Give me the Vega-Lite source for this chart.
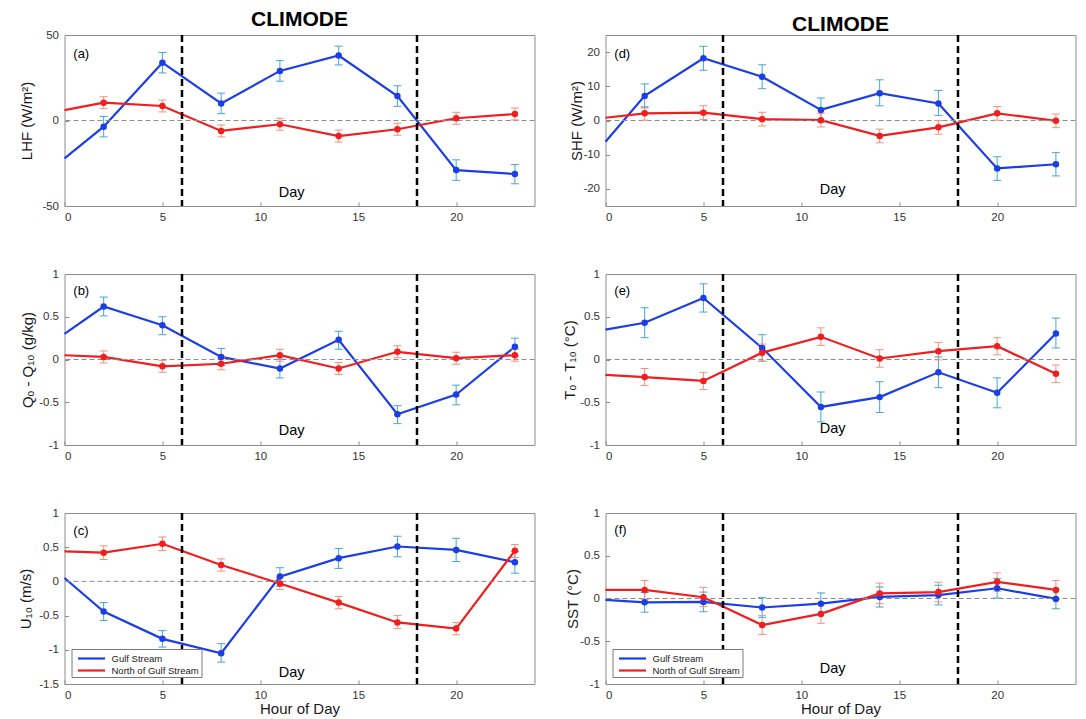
{
  "$schema": "https://vega.github.io/schema/vega-lite/v6.json",
  "background": "white",
  "padding": {"left": 17.5, "top": 8, "right": 5, "bottom": 5},
  "datasets": {
    "climode": [
      {"p":"a","hour":0,"region":"Gulf Stream","v":-22.1,"lo":null,"hi":null},
      {"p":"a","hour":2,"region":"Gulf Stream","v":-3.6,"lo":-9.6,"hi":2.4},
      {"p":"a","hour":5,"region":"Gulf Stream","v":33.8,"lo":27.8,"hi":39.8},
      {"p":"a","hour":8,"region":"Gulf Stream","v":10,"lo":4,"hi":16},
      {"p":"a","hour":11,"region":"Gulf Stream","v":29,"lo":23,"hi":35},
      {"p":"a","hour":14,"region":"Gulf Stream","v":38,"lo":32.5,"hi":43.5},
      {"p":"a","hour":17,"region":"Gulf Stream","v":14.3,"lo":8.3,"hi":20.3},
      {"p":"a","hour":20,"region":"Gulf Stream","v":-29,"lo":-35,"hi":-23},
      {"p":"a","hour":23,"region":"Gulf Stream","v":-31.3,"lo":-37,"hi":-25.8},
      {"p":"a","hour":0,"region":"North of Gulf Stream","v":6.1,"lo":null,"hi":null},
      {"p":"a","hour":2,"region":"North of Gulf Stream","v":10.4,"lo":6.9,"hi":13.9},
      {"p":"a","hour":5,"region":"North of Gulf Stream","v":8.5,"lo":5,"hi":12},
      {"p":"a","hour":8,"region":"North of Gulf Stream","v":-6.1,"lo":-9.6,"hi":-2.6},
      {"p":"a","hour":11,"region":"North of Gulf Stream","v":-2.2,"lo":-5.7,"hi":1.3},
      {"p":"a","hour":14,"region":"North of Gulf Stream","v":-9.1,"lo":-12.6,"hi":-5.6},
      {"p":"a","hour":17,"region":"North of Gulf Stream","v":-5.1,"lo":-8.6,"hi":-1.6},
      {"p":"a","hour":20,"region":"North of Gulf Stream","v":1.3,"lo":-2.2,"hi":4.8},
      {"p":"a","hour":23,"region":"North of Gulf Stream","v":3.8,"lo":0.3,"hi":7.3},

      {"p":"d","hour":0,"region":"Gulf Stream","v":-6.2,"lo":null,"hi":null},
      {"p":"d","hour":2,"region":"Gulf Stream","v":7.2,"lo":3.7,"hi":10.7},
      {"p":"d","hour":5,"region":"Gulf Stream","v":18.2,"lo":14.7,"hi":21.7},
      {"p":"d","hour":8,"region":"Gulf Stream","v":12.8,"lo":9.3,"hi":16.3},
      {"p":"d","hour":11,"region":"Gulf Stream","v":3.1,"lo":-0.4,"hi":6.6},
      {"p":"d","hour":14,"region":"Gulf Stream","v":8,"lo":4.3,"hi":11.9},
      {"p":"d","hour":17,"region":"Gulf Stream","v":5,"lo":1.5,"hi":8.8},
      {"p":"d","hour":20,"region":"Gulf Stream","v":-14,"lo":-17.5,"hi":-10.6},
      {"p":"d","hour":23,"region":"Gulf Stream","v":-12.8,"lo":-16.2,"hi":-9.4},
      {"p":"d","hour":0,"region":"North of Gulf Stream","v":0.8,"lo":null,"hi":null},
      {"p":"d","hour":2,"region":"North of Gulf Stream","v":2.1,"lo":0.1,"hi":4.1},
      {"p":"d","hour":5,"region":"North of Gulf Stream","v":2.3,"lo":0.3,"hi":4.3},
      {"p":"d","hour":8,"region":"North of Gulf Stream","v":0.4,"lo":-1.6,"hi":2.4},
      {"p":"d","hour":11,"region":"North of Gulf Stream","v":0.1,"lo":-1.9,"hi":2.1},
      {"p":"d","hour":14,"region":"North of Gulf Stream","v":-4.5,"lo":-6.5,"hi":-2.5},
      {"p":"d","hour":17,"region":"North of Gulf Stream","v":-2,"lo":-4,"hi":0},
      {"p":"d","hour":20,"region":"North of Gulf Stream","v":2.1,"lo":0.1,"hi":4.1},
      {"p":"d","hour":23,"region":"North of Gulf Stream","v":-0.1,"lo":-2.1,"hi":1.9},

      {"p":"b","hour":0,"region":"Gulf Stream","v":0.30,"lo":null,"hi":null},
      {"p":"b","hour":2,"region":"Gulf Stream","v":0.62,"lo":0.51,"hi":0.73},
      {"p":"b","hour":5,"region":"Gulf Stream","v":0.40,"lo":0.29,"hi":0.50},
      {"p":"b","hour":8,"region":"Gulf Stream","v":0.03,"lo":-0.07,"hi":0.13},
      {"p":"b","hour":11,"region":"Gulf Stream","v":-0.105,"lo":-0.215,"hi":0.005},
      {"p":"b","hour":14,"region":"Gulf Stream","v":0.23,"lo":0.12,"hi":0.33},
      {"p":"b","hour":17,"region":"Gulf Stream","v":-0.64,"lo":-0.75,"hi":-0.54},
      {"p":"b","hour":20,"region":"Gulf Stream","v":-0.41,"lo":-0.53,"hi":-0.30},
      {"p":"b","hour":23,"region":"Gulf Stream","v":0.15,"lo":0.04,"hi":0.25},
      {"p":"b","hour":0,"region":"North of Gulf Stream","v":0.05,"lo":null,"hi":null},
      {"p":"b","hour":2,"region":"North of Gulf Stream","v":0.03,"lo":-0.04,"hi":0.10},
      {"p":"b","hour":5,"region":"North of Gulf Stream","v":-0.08,"lo":-0.15,"hi":-0.01},
      {"p":"b","hour":8,"region":"North of Gulf Stream","v":-0.05,"lo":-0.12,"hi":0.02},
      {"p":"b","hour":11,"region":"North of Gulf Stream","v":0.05,"lo":-0.02,"hi":0.12},
      {"p":"b","hour":14,"region":"North of Gulf Stream","v":-0.105,"lo":-0.175,"hi":-0.035},
      {"p":"b","hour":17,"region":"North of Gulf Stream","v":0.09,"lo":0.02,"hi":0.16},
      {"p":"b","hour":20,"region":"North of Gulf Stream","v":0.015,"lo":-0.055,"hi":0.085},
      {"p":"b","hour":23,"region":"North of Gulf Stream","v":0.05,"lo":-0.02,"hi":0.12},

      {"p":"e","hour":0,"region":"Gulf Stream","v":0.35,"lo":null,"hi":null},
      {"p":"e","hour":2,"region":"Gulf Stream","v":0.43,"lo":0.255,"hi":0.605},
      {"p":"e","hour":5,"region":"Gulf Stream","v":0.72,"lo":0.555,"hi":0.885},
      {"p":"e","hour":8,"region":"Gulf Stream","v":0.135,"lo":-0.02,"hi":0.29},
      {"p":"e","hour":11,"region":"Gulf Stream","v":-0.555,"lo":-0.73,"hi":-0.38},
      {"p":"e","hour":14,"region":"Gulf Stream","v":-0.44,"lo":-0.62,"hi":-0.26},
      {"p":"e","hour":17,"region":"Gulf Stream","v":-0.15,"lo":-0.33,"hi":0.03},
      {"p":"e","hour":20,"region":"Gulf Stream","v":-0.39,"lo":-0.565,"hi":-0.215},
      {"p":"e","hour":23,"region":"Gulf Stream","v":0.305,"lo":0.135,"hi":0.485},
      {"p":"e","hour":0,"region":"North of Gulf Stream","v":-0.18,"lo":null,"hi":null},
      {"p":"e","hour":2,"region":"North of Gulf Stream","v":-0.205,"lo":-0.305,"hi":-0.105},
      {"p":"e","hour":5,"region":"North of Gulf Stream","v":-0.25,"lo":-0.35,"hi":-0.15},
      {"p":"e","hour":8,"region":"North of Gulf Stream","v":0.08,"lo":-0.02,"hi":0.18},
      {"p":"e","hour":11,"region":"North of Gulf Stream","v":0.265,"lo":0.165,"hi":0.37},
      {"p":"e","hour":14,"region":"North of Gulf Stream","v":0.012,"lo":-0.09,"hi":0.115},
      {"p":"e","hour":17,"region":"North of Gulf Stream","v":0.097,"lo":-0.005,"hi":0.2},
      {"p":"e","hour":20,"region":"North of Gulf Stream","v":0.156,"lo":0.055,"hi":0.255},
      {"p":"e","hour":23,"region":"North of Gulf Stream","v":-0.167,"lo":-0.27,"hi":-0.065},

      {"p":"c","hour":0,"region":"Gulf Stream","v":0.05,"lo":null,"hi":null},
      {"p":"c","hour":2,"region":"Gulf Stream","v":-0.44,"lo":-0.57,"hi":-0.31},
      {"p":"c","hour":5,"region":"Gulf Stream","v":-0.84,"lo":-0.96,"hi":-0.72},
      {"p":"c","hour":8,"region":"Gulf Stream","v":-1.05,"lo":-1.18,"hi":-0.91},
      {"p":"c","hour":11,"region":"Gulf Stream","v":0.07,"lo":-0.07,"hi":0.2},
      {"p":"c","hour":14,"region":"Gulf Stream","v":0.34,"lo":0.19,"hi":0.48},
      {"p":"c","hour":17,"region":"Gulf Stream","v":0.51,"lo":0.36,"hi":0.66},
      {"p":"c","hour":20,"region":"Gulf Stream","v":0.46,"lo":0.29,"hi":0.63},
      {"p":"c","hour":23,"region":"Gulf Stream","v":0.28,"lo":0.12,"hi":0.44},
      {"p":"c","hour":0,"region":"North of Gulf Stream","v":0.44,"lo":null,"hi":null},
      {"p":"c","hour":2,"region":"North of Gulf Stream","v":0.42,"lo":0.32,"hi":0.52},
      {"p":"c","hour":5,"region":"North of Gulf Stream","v":0.55,"lo":0.45,"hi":0.65},
      {"p":"c","hour":8,"region":"North of Gulf Stream","v":0.24,"lo":0.15,"hi":0.33},
      {"p":"c","hour":11,"region":"North of Gulf Stream","v":-0.03,"lo":-0.12,"hi":0.06},
      {"p":"c","hour":14,"region":"North of Gulf Stream","v":-0.31,"lo":-0.40,"hi":-0.22},
      {"p":"c","hour":17,"region":"North of Gulf Stream","v":-0.60,"lo":-0.69,"hi":-0.50},
      {"p":"c","hour":20,"region":"North of Gulf Stream","v":-0.69,"lo":-0.78,"hi":-0.60},
      {"p":"c","hour":23,"region":"North of Gulf Stream","v":0.45,"lo":0.35,"hi":0.54},

      {"p":"f","hour":0,"region":"Gulf Stream","v":-0.015,"lo":null,"hi":null},
      {"p":"f","hour":2,"region":"Gulf Stream","v":-0.045,"lo":-0.16,"hi":0.07},
      {"p":"f","hour":5,"region":"Gulf Stream","v":-0.04,"lo":-0.155,"hi":0.075},
      {"p":"f","hour":8,"region":"Gulf Stream","v":-0.105,"lo":-0.22,"hi":0.01},
      {"p":"f","hour":11,"region":"Gulf Stream","v":-0.06,"lo":-0.175,"hi":0.065},
      {"p":"f","hour":14,"region":"Gulf Stream","v":0.018,"lo":-0.1,"hi":0.135},
      {"p":"f","hour":17,"region":"Gulf Stream","v":0.04,"lo":-0.075,"hi":0.155},
      {"p":"f","hour":20,"region":"Gulf Stream","v":0.12,"lo":0.005,"hi":0.235},
      {"p":"f","hour":23,"region":"Gulf Stream","v":-0.005,"lo":-0.12,"hi":0.11},
      {"p":"f","hour":0,"region":"North of Gulf Stream","v":0.1,"lo":null,"hi":null},
      {"p":"f","hour":2,"region":"North of Gulf Stream","v":0.1,"lo":-0.01,"hi":0.21},
      {"p":"f","hour":5,"region":"North of Gulf Stream","v":0.015,"lo":-0.095,"hi":0.13},
      {"p":"f","hour":8,"region":"North of Gulf Stream","v":-0.31,"lo":-0.42,"hi":-0.2},
      {"p":"f","hour":11,"region":"North of Gulf Stream","v":-0.18,"lo":-0.29,"hi":-0.07},
      {"p":"f","hour":14,"region":"North of Gulf Stream","v":0.06,"lo":-0.06,"hi":0.18},
      {"p":"f","hour":17,"region":"North of Gulf Stream","v":0.075,"lo":-0.04,"hi":0.19},
      {"p":"f","hour":20,"region":"North of Gulf Stream","v":0.195,"lo":0.085,"hi":0.3},
      {"p":"f","hour":23,"region":"North of Gulf Stream","v":0.1,"lo":-0.01,"hi":0.21}
    ]
  },
  "data": {"name": "climode"},
  "columns": 2,
  "spacing": {"row": 68, "column": 71},
  "bounds": "flush",
  "resolve": {
    "scale": {"x": "independent", "y": "independent", "color": "independent", "fill": "independent", "stroke": "independent"},
    "legend": {"color": "independent"}
  },
  "config": {
    "font": "Liberation Sans",
    "view": {"stroke": "#8c8c8c", "strokeWidth": 1},
    "title": {"font": "Liberation Sans", "fontSize": 21, "fontWeight": "bold", "color": "#000", "anchor": "middle", "offset": -1, "frame": "group"},
    "axis": {"grid": false, "domain": false, "ticks": true, "tickColor": "#8c8c8c", "tickSize": -4, "tickCount": 10, "labelFont": "Liberation Sans", "labelFontSize": 11.5, "labelColor": "#333", "labelOverlap": false, "titleFont": "Liberation Sans", "titleFontSize": 15, "titleFontWeight": "normal", "titleColor": "#1a1a1a"},
    "axisX": {"labelPadding": 9},
    "axisY": {"labelPadding": 10, "labelExpr": "'' + datum.value"}
  },
  "concat": [
    {
      "width": 470, "height": 171,
      "title": {"text": "CLIMODE"},
      "transform": [{"filter": "datum.p === 'a'"}],
      "layer": [
        {"mark": {"type": "line", "strokeWidth": 2.2}, "encoding": {
          "x": {"field": "hour", "type": "quantitative", "scale": {"domain": [0, 24], "nice": false}, "axis": {"values": [0, 5, 10, 15, 20], "tickCount": 10, "title": null}},
          "y": {"field": "v", "type": "quantitative", "scale": {"domain": [-50, 50], "nice": false}, "axis": {"values": [-50, 0, 50], "tickCount": 10, "labelOverlap": false, "title": "LHF (W/m²)", "titleX": -38, "titleBaseline": "middle"}},
          "color": {"field": "region", "type": "nominal", "scale": {"domain": ["Gulf Stream", "North of Gulf Stream"], "range": ["#1b3ee6", "#f01e1e"]}, "legend": null}}},
        {"data": {"values": [{}]}, "mark": {"type": "rule", "color": "#8c8c8c", "strokeWidth": 1, "strokeDash": [5, 3]}, "encoding": {"y": {"datum": 0, "type": "quantitative", "scale": {"domain": [-50, 50], "nice": false}}}},
        {"data": {"values": [{"h": 6}, {"h": 18}]}, "mark": {"type": "rule", "color": "#000", "strokeWidth": 2.5, "strokeDash": [7, 4]}, "encoding": {"x": {"field": "h", "type": "quantitative", "scale": {"domain": [0, 24], "nice": false}}}},
        {"transform": [{"filter": "datum.hour > 0"}], "mark": {"type": "rule", "strokeWidth": 1}, "encoding": {
          "x": {"field": "hour", "type": "quantitative", "scale": {"domain": [0, 24], "nice": false}},
          "y": {"field": "lo", "type": "quantitative", "scale": {"domain": [-50, 50], "nice": false}},
          "y2": {"field": "hi"},
          "stroke": {"field": "region", "type": "nominal", "scale": {"domain": ["Gulf Stream", "North of Gulf Stream"], "range": ["#44a6cf", "#f2937a"]}, "legend": null}}},
        {"transform": [{"filter": "datum.hour > 0"}], "mark": {"type": "point", "shape": "M-1,0H1", "filled": false, "size": 64, "strokeWidth": 1, "opacity": 1}, "encoding": {
          "x": {"field": "hour", "type": "quantitative", "scale": {"domain": [0, 24], "nice": false}},
          "y": {"field": "lo", "type": "quantitative", "scale": {"domain": [-50, 50], "nice": false}},
          "stroke": {"field": "region", "type": "nominal", "scale": {"domain": ["Gulf Stream", "North of Gulf Stream"], "range": ["#44a6cf", "#f2937a"]}, "legend": null}}},
        {"transform": [{"filter": "datum.hour > 0"}], "mark": {"type": "point", "shape": "M-1,0H1", "filled": false, "size": 64, "strokeWidth": 1, "opacity": 1}, "encoding": {
          "x": {"field": "hour", "type": "quantitative", "scale": {"domain": [0, 24], "nice": false}},
          "y": {"field": "hi", "type": "quantitative", "scale": {"domain": [-50, 50], "nice": false}},
          "stroke": {"field": "region", "type": "nominal", "scale": {"domain": ["Gulf Stream", "North of Gulf Stream"], "range": ["#44a6cf", "#f2937a"]}, "legend": null}}},
        {"transform": [{"filter": "datum.hour > 0"}], "mark": {"type": "circle", "size": 42, "opacity": 1}, "encoding": {
          "x": {"field": "hour", "type": "quantitative", "scale": {"domain": [0, 24], "nice": false}},
          "y": {"field": "v", "type": "quantitative", "scale": {"domain": [-50, 50], "nice": false}},
          "fill": {"field": "region", "type": "nominal", "scale": {"domain": ["Gulf Stream", "North of Gulf Stream"], "range": ["#1b3ee6", "#f01e1e"]}, "legend": null}}},
        {"data": {"values": [{}]}, "mark": {"type": "text", "text": "(a)", "align": "left", "baseline": "middle", "fontSize": 13, "color": "#000"}, "encoding": {
          "x": {"datum": 0.45, "type": "quantitative", "scale": {"domain": [0, 24], "nice": false}},
          "y": {"datum": 39, "type": "quantitative", "scale": {"domain": [-50, 50], "nice": false}}}},
        {"data": {"values": [{}]}, "mark": {"type": "text", "text": "Day", "align": "center", "baseline": "middle", "fontSize": 14.5, "color": "#000"}, "encoding": {
          "x": {"datum": 11.6, "type": "quantitative", "scale": {"domain": [0, 24], "nice": false}},
          "y": {"datum": -42.4, "type": "quantitative", "scale": {"domain": [-50, 50], "nice": false}}}}
      ]
    },
    {
      "width": 470, "height": 171,
      "title": {"text": "CLIMODE"},
      "transform": [{"filter": "datum.p === 'd'"}],
      "layer": [
        {"mark": {"type": "line", "strokeWidth": 2.2}, "encoding": {
          "x": {"field": "hour", "type": "quantitative", "scale": {"domain": [0, 24], "nice": false}, "axis": {"values": [0, 5, 10, 15, 20], "tickCount": 10, "title": null}},
          "y": {"field": "v", "type": "quantitative", "scale": {"domain": [-25, 25], "nice": false}, "axis": {"values": [-20, -10, 0, 10, 20], "tickCount": 10, "labelOverlap": false, "title": "SHF (W/m²)", "titleX": -29, "titleBaseline": "middle"}},
          "color": {"field": "region", "type": "nominal", "scale": {"domain": ["Gulf Stream", "North of Gulf Stream"], "range": ["#1b3ee6", "#f01e1e"]}, "legend": null}}},
        {"data": {"values": [{}]}, "mark": {"type": "rule", "color": "#8c8c8c", "strokeWidth": 1, "strokeDash": [5, 3]}, "encoding": {"y": {"datum": 0, "type": "quantitative", "scale": {"domain": [-25, 25], "nice": false}}}},
        {"data": {"values": [{"h": 6}, {"h": 18}]}, "mark": {"type": "rule", "color": "#000", "strokeWidth": 2.5, "strokeDash": [7, 4]}, "encoding": {"x": {"field": "h", "type": "quantitative", "scale": {"domain": [0, 24], "nice": false}}}},
        {"transform": [{"filter": "datum.hour > 0"}], "mark": {"type": "rule", "strokeWidth": 1}, "encoding": {
          "x": {"field": "hour", "type": "quantitative", "scale": {"domain": [0, 24], "nice": false}},
          "y": {"field": "lo", "type": "quantitative", "scale": {"domain": [-25, 25], "nice": false}},
          "y2": {"field": "hi"},
          "stroke": {"field": "region", "type": "nominal", "scale": {"domain": ["Gulf Stream", "North of Gulf Stream"], "range": ["#44a6cf", "#f2937a"]}, "legend": null}}},
        {"transform": [{"filter": "datum.hour > 0"}], "mark": {"type": "point", "shape": "M-1,0H1", "filled": false, "size": 64, "strokeWidth": 1, "opacity": 1}, "encoding": {
          "x": {"field": "hour", "type": "quantitative", "scale": {"domain": [0, 24], "nice": false}},
          "y": {"field": "lo", "type": "quantitative", "scale": {"domain": [-25, 25], "nice": false}},
          "stroke": {"field": "region", "type": "nominal", "scale": {"domain": ["Gulf Stream", "North of Gulf Stream"], "range": ["#44a6cf", "#f2937a"]}, "legend": null}}},
        {"transform": [{"filter": "datum.hour > 0"}], "mark": {"type": "point", "shape": "M-1,0H1", "filled": false, "size": 64, "strokeWidth": 1, "opacity": 1}, "encoding": {
          "x": {"field": "hour", "type": "quantitative", "scale": {"domain": [0, 24], "nice": false}},
          "y": {"field": "hi", "type": "quantitative", "scale": {"domain": [-25, 25], "nice": false}},
          "stroke": {"field": "region", "type": "nominal", "scale": {"domain": ["Gulf Stream", "North of Gulf Stream"], "range": ["#44a6cf", "#f2937a"]}, "legend": null}}},
        {"transform": [{"filter": "datum.hour > 0"}], "mark": {"type": "circle", "size": 42, "opacity": 1}, "encoding": {
          "x": {"field": "hour", "type": "quantitative", "scale": {"domain": [0, 24], "nice": false}},
          "y": {"field": "v", "type": "quantitative", "scale": {"domain": [-25, 25], "nice": false}},
          "fill": {"field": "region", "type": "nominal", "scale": {"domain": ["Gulf Stream", "North of Gulf Stream"], "range": ["#1b3ee6", "#f01e1e"]}, "legend": null}}},
        {"data": {"values": [{}]}, "mark": {"type": "text", "text": "(d)", "align": "left", "baseline": "middle", "fontSize": 13, "color": "#000"}, "encoding": {
          "x": {"datum": 0.45, "type": "quantitative", "scale": {"domain": [0, 24], "nice": false}},
          "y": {"datum": 19.5, "type": "quantitative", "scale": {"domain": [-25, 25], "nice": false}}}},
        {"data": {"values": [{}]}, "mark": {"type": "text", "text": "Day", "align": "center", "baseline": "middle", "fontSize": 14.5, "color": "#000"}, "encoding": {
          "x": {"datum": 11.6, "type": "quantitative", "scale": {"domain": [0, 24], "nice": false}},
          "y": {"datum": -20.3, "type": "quantitative", "scale": {"domain": [-25, 25], "nice": false}}}}
      ]
    },
    {
      "width": 470, "height": 171,
      "transform": [{"filter": "datum.p === 'b'"}],
      "layer": [
        {"mark": {"type": "line", "strokeWidth": 2.2}, "encoding": {
          "x": {"field": "hour", "type": "quantitative", "scale": {"domain": [0, 24], "nice": false}, "axis": {"values": [0, 5, 10, 15, 20], "tickCount": 10, "title": null}},
          "y": {"field": "v", "type": "quantitative", "scale": {"domain": [-1, 1], "nice": false}, "axis": {"values": [-1, -0.5, 0, 0.5, 1], "tickCount": 10, "labelOverlap": false, "title": "Qₒ - Q₁₀ (g/kg)", "titleX": -37, "titleBaseline": "middle"}},
          "color": {"field": "region", "type": "nominal", "scale": {"domain": ["Gulf Stream", "North of Gulf Stream"], "range": ["#1b3ee6", "#f01e1e"]}, "legend": null}}},
        {"data": {"values": [{}]}, "mark": {"type": "rule", "color": "#8c8c8c", "strokeWidth": 1, "strokeDash": [5, 3]}, "encoding": {"y": {"datum": 0, "type": "quantitative", "scale": {"domain": [-1, 1], "nice": false}}}},
        {"data": {"values": [{"h": 6}, {"h": 18}]}, "mark": {"type": "rule", "color": "#000", "strokeWidth": 2.5, "strokeDash": [7, 4]}, "encoding": {"x": {"field": "h", "type": "quantitative", "scale": {"domain": [0, 24], "nice": false}}}},
        {"transform": [{"filter": "datum.hour > 0"}], "mark": {"type": "rule", "strokeWidth": 1}, "encoding": {
          "x": {"field": "hour", "type": "quantitative", "scale": {"domain": [0, 24], "nice": false}},
          "y": {"field": "lo", "type": "quantitative", "scale": {"domain": [-1, 1], "nice": false}},
          "y2": {"field": "hi"},
          "stroke": {"field": "region", "type": "nominal", "scale": {"domain": ["Gulf Stream", "North of Gulf Stream"], "range": ["#44a6cf", "#f2937a"]}, "legend": null}}},
        {"transform": [{"filter": "datum.hour > 0"}], "mark": {"type": "point", "shape": "M-1,0H1", "filled": false, "size": 64, "strokeWidth": 1, "opacity": 1}, "encoding": {
          "x": {"field": "hour", "type": "quantitative", "scale": {"domain": [0, 24], "nice": false}},
          "y": {"field": "lo", "type": "quantitative", "scale": {"domain": [-1, 1], "nice": false}},
          "stroke": {"field": "region", "type": "nominal", "scale": {"domain": ["Gulf Stream", "North of Gulf Stream"], "range": ["#44a6cf", "#f2937a"]}, "legend": null}}},
        {"transform": [{"filter": "datum.hour > 0"}], "mark": {"type": "point", "shape": "M-1,0H1", "filled": false, "size": 64, "strokeWidth": 1, "opacity": 1}, "encoding": {
          "x": {"field": "hour", "type": "quantitative", "scale": {"domain": [0, 24], "nice": false}},
          "y": {"field": "hi", "type": "quantitative", "scale": {"domain": [-1, 1], "nice": false}},
          "stroke": {"field": "region", "type": "nominal", "scale": {"domain": ["Gulf Stream", "North of Gulf Stream"], "range": ["#44a6cf", "#f2937a"]}, "legend": null}}},
        {"transform": [{"filter": "datum.hour > 0"}], "mark": {"type": "circle", "size": 42, "opacity": 1}, "encoding": {
          "x": {"field": "hour", "type": "quantitative", "scale": {"domain": [0, 24], "nice": false}},
          "y": {"field": "v", "type": "quantitative", "scale": {"domain": [-1, 1], "nice": false}},
          "fill": {"field": "region", "type": "nominal", "scale": {"domain": ["Gulf Stream", "North of Gulf Stream"], "range": ["#1b3ee6", "#f01e1e"]}, "legend": null}}},
        {"data": {"values": [{}]}, "mark": {"type": "text", "text": "(b)", "align": "left", "baseline": "middle", "fontSize": 13, "color": "#000"}, "encoding": {
          "x": {"datum": 0.45, "type": "quantitative", "scale": {"domain": [0, 24], "nice": false}},
          "y": {"datum": 0.8, "type": "quantitative", "scale": {"domain": [-1, 1], "nice": false}}}},
        {"data": {"values": [{}]}, "mark": {"type": "text", "text": "Day", "align": "center", "baseline": "middle", "fontSize": 14.5, "color": "#000"}, "encoding": {
          "x": {"datum": 11.6, "type": "quantitative", "scale": {"domain": [0, 24], "nice": false}},
          "y": {"datum": -0.835, "type": "quantitative", "scale": {"domain": [-1, 1], "nice": false}}}}
      ]
    },
    {
      "width": 470, "height": 171,
      "transform": [{"filter": "datum.p === 'e'"}],
      "layer": [
        {"mark": {"type": "line", "strokeWidth": 2.2}, "encoding": {
          "x": {"field": "hour", "type": "quantitative", "scale": {"domain": [0, 24], "nice": false}, "axis": {"values": [0, 5, 10, 15, 20], "tickCount": 10, "title": null}},
          "y": {"field": "v", "type": "quantitative", "scale": {"domain": [-1, 1], "nice": false}, "axis": {"values": [-1, -0.5, 0, 0.5, 1], "tickCount": 10, "labelOverlap": false, "title": "Tₒ - T₁₀ (°C)", "titleX": -36, "titleBaseline": "middle"}},
          "color": {"field": "region", "type": "nominal", "scale": {"domain": ["Gulf Stream", "North of Gulf Stream"], "range": ["#1b3ee6", "#f01e1e"]}, "legend": null}}},
        {"data": {"values": [{}]}, "mark": {"type": "rule", "color": "#8c8c8c", "strokeWidth": 1, "strokeDash": [5, 3]}, "encoding": {"y": {"datum": 0, "type": "quantitative", "scale": {"domain": [-1, 1], "nice": false}}}},
        {"data": {"values": [{"h": 6}, {"h": 18}]}, "mark": {"type": "rule", "color": "#000", "strokeWidth": 2.5, "strokeDash": [7, 4]}, "encoding": {"x": {"field": "h", "type": "quantitative", "scale": {"domain": [0, 24], "nice": false}}}},
        {"transform": [{"filter": "datum.hour > 0"}], "mark": {"type": "rule", "strokeWidth": 1}, "encoding": {
          "x": {"field": "hour", "type": "quantitative", "scale": {"domain": [0, 24], "nice": false}},
          "y": {"field": "lo", "type": "quantitative", "scale": {"domain": [-1, 1], "nice": false}},
          "y2": {"field": "hi"},
          "stroke": {"field": "region", "type": "nominal", "scale": {"domain": ["Gulf Stream", "North of Gulf Stream"], "range": ["#44a6cf", "#f2937a"]}, "legend": null}}},
        {"transform": [{"filter": "datum.hour > 0"}], "mark": {"type": "point", "shape": "M-1,0H1", "filled": false, "size": 64, "strokeWidth": 1, "opacity": 1}, "encoding": {
          "x": {"field": "hour", "type": "quantitative", "scale": {"domain": [0, 24], "nice": false}},
          "y": {"field": "lo", "type": "quantitative", "scale": {"domain": [-1, 1], "nice": false}},
          "stroke": {"field": "region", "type": "nominal", "scale": {"domain": ["Gulf Stream", "North of Gulf Stream"], "range": ["#44a6cf", "#f2937a"]}, "legend": null}}},
        {"transform": [{"filter": "datum.hour > 0"}], "mark": {"type": "point", "shape": "M-1,0H1", "filled": false, "size": 64, "strokeWidth": 1, "opacity": 1}, "encoding": {
          "x": {"field": "hour", "type": "quantitative", "scale": {"domain": [0, 24], "nice": false}},
          "y": {"field": "hi", "type": "quantitative", "scale": {"domain": [-1, 1], "nice": false}},
          "stroke": {"field": "region", "type": "nominal", "scale": {"domain": ["Gulf Stream", "North of Gulf Stream"], "range": ["#44a6cf", "#f2937a"]}, "legend": null}}},
        {"transform": [{"filter": "datum.hour > 0"}], "mark": {"type": "circle", "size": 42, "opacity": 1}, "encoding": {
          "x": {"field": "hour", "type": "quantitative", "scale": {"domain": [0, 24], "nice": false}},
          "y": {"field": "v", "type": "quantitative", "scale": {"domain": [-1, 1], "nice": false}},
          "fill": {"field": "region", "type": "nominal", "scale": {"domain": ["Gulf Stream", "North of Gulf Stream"], "range": ["#1b3ee6", "#f01e1e"]}, "legend": null}}},
        {"data": {"values": [{}]}, "mark": {"type": "text", "text": "(e)", "align": "left", "baseline": "middle", "fontSize": 13, "color": "#000"}, "encoding": {
          "x": {"datum": 0.45, "type": "quantitative", "scale": {"domain": [0, 24], "nice": false}},
          "y": {"datum": 0.8, "type": "quantitative", "scale": {"domain": [-1, 1], "nice": false}}}},
        {"data": {"values": [{}]}, "mark": {"type": "text", "text": "Day", "align": "center", "baseline": "middle", "fontSize": 14.5, "color": "#000"}, "encoding": {
          "x": {"datum": 11.6, "type": "quantitative", "scale": {"domain": [0, 24], "nice": false}},
          "y": {"datum": -0.81, "type": "quantitative", "scale": {"domain": [-1, 1], "nice": false}}}}
      ]
    },
    {
      "width": 470, "height": 171,
      "transform": [{"filter": "datum.p === 'c'"}],
      "layer": [
        {"mark": {"type": "line", "strokeWidth": 2.2}, "encoding": {
          "x": {"field": "hour", "type": "quantitative", "scale": {"domain": [0, 24], "nice": false}, "axis": {"values": [0, 5, 10, 15, 20], "tickCount": 10, "title": "Hour of Day", "titlePadding": 1}},
          "y": {"field": "v", "type": "quantitative", "scale": {"domain": [-1.5, 1], "nice": false}, "axis": {"values": [-1.5, -1, -0.5, 0, 0.5, 1], "tickCount": 10, "labelOverlap": false, "title": "U₁₀ (m/s)", "titleX": -39, "titleBaseline": "middle"}},
          "color": {"field": "region", "type": "nominal", "scale": {"domain": ["Gulf Stream", "North of Gulf Stream"], "range": ["#1b3ee6", "#f01e1e"]},
            "legend": {"orient": "bottom-left", "offset": 7, "title": null, "strokeColor": "#7a7a7a", "fillColor": "#ffffff", "padding": 2, "symbolType": "M-2.25,0H2.25", "symbolStrokeWidth": 2.2, "symbolSize": 144, "symbolOffset": 10.5, "labelFontSize": 9.5, "labelFont": "Liberation Sans", "labelColor": "#222", "labelOffset": 12.5, "rowPadding": 0, "cornerRadius": 0}}}},
        {"data": {"values": [{}]}, "mark": {"type": "rule", "color": "#8c8c8c", "strokeWidth": 1, "strokeDash": [5, 3]}, "encoding": {"y": {"datum": 0, "type": "quantitative", "scale": {"domain": [-1.5, 1], "nice": false}}}},
        {"data": {"values": [{"h": 6}, {"h": 18}]}, "mark": {"type": "rule", "color": "#000", "strokeWidth": 2.5, "strokeDash": [7, 4]}, "encoding": {"x": {"field": "h", "type": "quantitative", "scale": {"domain": [0, 24], "nice": false}}}},
        {"transform": [{"filter": "datum.hour > 0"}], "mark": {"type": "rule", "strokeWidth": 1}, "encoding": {
          "x": {"field": "hour", "type": "quantitative", "scale": {"domain": [0, 24], "nice": false}},
          "y": {"field": "lo", "type": "quantitative", "scale": {"domain": [-1.5, 1], "nice": false}},
          "y2": {"field": "hi"},
          "stroke": {"field": "region", "type": "nominal", "scale": {"domain": ["Gulf Stream", "North of Gulf Stream"], "range": ["#44a6cf", "#f2937a"]}, "legend": null}}},
        {"transform": [{"filter": "datum.hour > 0"}], "mark": {"type": "point", "shape": "M-1,0H1", "filled": false, "size": 64, "strokeWidth": 1, "opacity": 1}, "encoding": {
          "x": {"field": "hour", "type": "quantitative", "scale": {"domain": [0, 24], "nice": false}},
          "y": {"field": "lo", "type": "quantitative", "scale": {"domain": [-1.5, 1], "nice": false}},
          "stroke": {"field": "region", "type": "nominal", "scale": {"domain": ["Gulf Stream", "North of Gulf Stream"], "range": ["#44a6cf", "#f2937a"]}, "legend": null}}},
        {"transform": [{"filter": "datum.hour > 0"}], "mark": {"type": "point", "shape": "M-1,0H1", "filled": false, "size": 64, "strokeWidth": 1, "opacity": 1}, "encoding": {
          "x": {"field": "hour", "type": "quantitative", "scale": {"domain": [0, 24], "nice": false}},
          "y": {"field": "hi", "type": "quantitative", "scale": {"domain": [-1.5, 1], "nice": false}},
          "stroke": {"field": "region", "type": "nominal", "scale": {"domain": ["Gulf Stream", "North of Gulf Stream"], "range": ["#44a6cf", "#f2937a"]}, "legend": null}}},
        {"transform": [{"filter": "datum.hour > 0"}], "mark": {"type": "circle", "size": 42, "opacity": 1}, "encoding": {
          "x": {"field": "hour", "type": "quantitative", "scale": {"domain": [0, 24], "nice": false}},
          "y": {"field": "v", "type": "quantitative", "scale": {"domain": [-1.5, 1], "nice": false}},
          "fill": {"field": "region", "type": "nominal", "scale": {"domain": ["Gulf Stream", "North of Gulf Stream"], "range": ["#1b3ee6", "#f01e1e"]}, "legend": null}}},
        {"data": {"values": [{}]}, "mark": {"type": "text", "text": "(c)", "align": "left", "baseline": "middle", "fontSize": 13, "color": "#000"}, "encoding": {
          "x": {"datum": 0.45, "type": "quantitative", "scale": {"domain": [0, 24], "nice": false}},
          "y": {"datum": 0.74, "type": "quantitative", "scale": {"domain": [-1.5, 1], "nice": false}}}},
        {"data": {"values": [{}]}, "mark": {"type": "text", "text": "Day", "align": "center", "baseline": "middle", "fontSize": 14.5, "color": "#000"}, "encoding": {
          "x": {"datum": 11.6, "type": "quantitative", "scale": {"domain": [0, 24], "nice": false}},
          "y": {"datum": -1.34, "type": "quantitative", "scale": {"domain": [-1.5, 1], "nice": false}}}}
      ]
    },
    {
      "width": 470, "height": 171,
      "transform": [{"filter": "datum.p === 'f'"}],
      "layer": [
        {"mark": {"type": "line", "strokeWidth": 2.2}, "encoding": {
          "x": {"field": "hour", "type": "quantitative", "scale": {"domain": [0, 24], "nice": false}, "axis": {"values": [0, 5, 10, 15, 20], "tickCount": 10, "title": "Hour of Day", "titlePadding": 1}},
          "y": {"field": "v", "type": "quantitative", "scale": {"domain": [-1, 1], "nice": false}, "axis": {"values": [-1, -0.5, 0, 0.5, 1], "tickCount": 10, "labelOverlap": false, "title": "SST (°C)", "titleX": -33, "titleBaseline": "middle"}},
          "color": {"field": "region", "type": "nominal", "scale": {"domain": ["Gulf Stream", "North of Gulf Stream"], "range": ["#1b3ee6", "#f01e1e"]},
            "legend": {"orient": "bottom-left", "offset": 7, "title": null, "strokeColor": "#7a7a7a", "fillColor": "#ffffff", "padding": 2, "symbolType": "M-2.25,0H2.25", "symbolStrokeWidth": 2.2, "symbolSize": 144, "symbolOffset": 10.5, "labelFontSize": 9.5, "labelFont": "Liberation Sans", "labelColor": "#222", "labelOffset": 12.5, "rowPadding": 0, "cornerRadius": 0}}}},
        {"data": {"values": [{}]}, "mark": {"type": "rule", "color": "#8c8c8c", "strokeWidth": 1, "strokeDash": [5, 3]}, "encoding": {"y": {"datum": 0, "type": "quantitative", "scale": {"domain": [-1, 1], "nice": false}}}},
        {"data": {"values": [{"h": 6}, {"h": 18}]}, "mark": {"type": "rule", "color": "#000", "strokeWidth": 2.5, "strokeDash": [7, 4]}, "encoding": {"x": {"field": "h", "type": "quantitative", "scale": {"domain": [0, 24], "nice": false}}}},
        {"transform": [{"filter": "datum.hour > 0"}], "mark": {"type": "rule", "strokeWidth": 1}, "encoding": {
          "x": {"field": "hour", "type": "quantitative", "scale": {"domain": [0, 24], "nice": false}},
          "y": {"field": "lo", "type": "quantitative", "scale": {"domain": [-1, 1], "nice": false}},
          "y2": {"field": "hi"},
          "stroke": {"field": "region", "type": "nominal", "scale": {"domain": ["Gulf Stream", "North of Gulf Stream"], "range": ["#44a6cf", "#f2937a"]}, "legend": null}}},
        {"transform": [{"filter": "datum.hour > 0"}], "mark": {"type": "point", "shape": "M-1,0H1", "filled": false, "size": 64, "strokeWidth": 1, "opacity": 1}, "encoding": {
          "x": {"field": "hour", "type": "quantitative", "scale": {"domain": [0, 24], "nice": false}},
          "y": {"field": "lo", "type": "quantitative", "scale": {"domain": [-1, 1], "nice": false}},
          "stroke": {"field": "region", "type": "nominal", "scale": {"domain": ["Gulf Stream", "North of Gulf Stream"], "range": ["#44a6cf", "#f2937a"]}, "legend": null}}},
        {"transform": [{"filter": "datum.hour > 0"}], "mark": {"type": "point", "shape": "M-1,0H1", "filled": false, "size": 64, "strokeWidth": 1, "opacity": 1}, "encoding": {
          "x": {"field": "hour", "type": "quantitative", "scale": {"domain": [0, 24], "nice": false}},
          "y": {"field": "hi", "type": "quantitative", "scale": {"domain": [-1, 1], "nice": false}},
          "stroke": {"field": "region", "type": "nominal", "scale": {"domain": ["Gulf Stream", "North of Gulf Stream"], "range": ["#44a6cf", "#f2937a"]}, "legend": null}}},
        {"transform": [{"filter": "datum.hour > 0"}], "mark": {"type": "circle", "size": 42, "opacity": 1}, "encoding": {
          "x": {"field": "hour", "type": "quantitative", "scale": {"domain": [0, 24], "nice": false}},
          "y": {"field": "v", "type": "quantitative", "scale": {"domain": [-1, 1], "nice": false}},
          "fill": {"field": "region", "type": "nominal", "scale": {"domain": ["Gulf Stream", "North of Gulf Stream"], "range": ["#1b3ee6", "#f01e1e"]}, "legend": null}}},
        {"data": {"values": [{}]}, "mark": {"type": "text", "text": "(f)", "align": "left", "baseline": "middle", "fontSize": 13, "color": "#000"}, "encoding": {
          "x": {"datum": 0.45, "type": "quantitative", "scale": {"domain": [0, 24], "nice": false}},
          "y": {"datum": 0.8, "type": "quantitative", "scale": {"domain": [-1, 1], "nice": false}}}},
        {"data": {"values": [{}]}, "mark": {"type": "text", "text": "Day", "align": "center", "baseline": "middle", "fontSize": 14.5, "color": "#000"}, "encoding": {
          "x": {"datum": 11.6, "type": "quantitative", "scale": {"domain": [0, 24], "nice": false}},
          "y": {"datum": -0.825, "type": "quantitative", "scale": {"domain": [-1, 1], "nice": false}}}}
      ]
    }
  ]
}
